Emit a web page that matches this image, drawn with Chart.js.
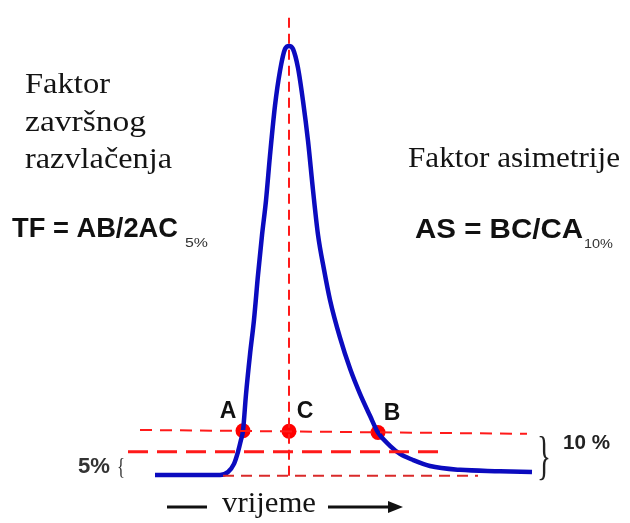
<!DOCTYPE html>
<html>
<head>
<meta charset="utf-8">
<script src="https://cdn.jsdelivr.net/npm/chart.js@4/dist/chart.umd.min.js"></script>
<style>
  html, body { margin: 0; padding: 0; background: #fff; }
  #wrap { width: 630px; height: 523px; position: relative; }
</style>
</head>
<body>
<div id="wrap"><canvas id="c"></canvas></div>
<script>
// peak (time in arbitrary units, signal in % of peak height)
const curveTime = [31, 44, 45.6, 46.8, 47.6, 48.2, 48.6, 49.2, 50, 50.8, 51.6, 52.4, 53.2, 54, 55, 56, 57, 57.8,
                   58.6, 59.6, 60.6, 61.6, 62.6, 63.6, 64.8, 66, 68, 70, 72, 74, 75.6, 78, 80, 82.6, 86, 92, 100, 106.4];
const curveSignal = [0, 0, 0.7, 2.6, 5.4, 8.2, 10.3, 18.8, 28.1, 36.2, 46.6, 55.9, 64, 74.5, 86.1, 94.2, 99.3, 100,
                     99.3, 94.9, 87.2, 77.9, 66.4, 56, 47.9, 40.8, 32, 24.8, 18.9, 13.8, 9.9, 6.8, 4.9, 3.5, 2.1, 1.2, 0.9, 0.7];

// reference lines
const peakTime = 57.8;
const peakLineSignal = [-0.2, 107.7];
const line10Time = [28, 105.4];
const line10Signal = [10.5, 9.6];
const line5Time = [25.6, 88.4];
const line5Signal = [5.4, 5.4];
const baseTime = [44.6, 95.6];
const baseSignal = [-0.2, -0.2];

// marked points A, C, B at 10 % height
const pointLabels = ['A', 'C', 'B'];
const pointTime = [48.6, 57.8, 75.6];
const pointSignal = [10.3, 10.2, 9.9];
const pointLabelShift = [-15, 16, 14];

const red = '#ff1a1a';
const blue = '#0b0bbf';

const xy = (xs, ys) => xs.map((x, i) => ({ x, y: ys[i] }));

// fit text to a width
function fitText(ctx, txt, x, y, w) {
    const m = ctx.measureText(txt).width;
    ctx.save();
    ctx.translate(x, y);
    ctx.scale(w / m, 1);
    ctx.fillText(txt, 0, 0);
    ctx.restore();
}

const notes = {
    id: 'notes',
    afterDatasetsDraw(chart) {
        const ctx = chart.ctx;
        const sx = chart.scales.x, sy = chart.scales.y;
        ctx.save();
        ctx.textBaseline = 'alphabetic';
        ctx.textAlign = 'left';

        // serif captions
        ctx.fillStyle = '#141414';
        ctx.font = '30px "Liberation Serif", serif';
        fitText(ctx, 'Faktor', 25, 93, 85);
        fitText(ctx, 'završnog', 25, 131, 121);
        fitText(ctx, 'razvlačenja', 25, 168, 147);
        fitText(ctx, 'Faktor asimetrije', 408, 167, 212);
        fitText(ctx, 'vrijeme', 222, 512, 94);

        // formulas
        ctx.fillStyle = '#111';
        ctx.font = 'bold 28px "Liberation Sans", Arial, sans-serif';
        fitText(ctx, 'TF = AB/2AC', 12, 237, 166);
        fitText(ctx, 'AS = BC/CA', 415, 238, 168);
        ctx.fillStyle = '#333';
        ctx.font = '12px "Liberation Sans", Arial, sans-serif';
        fitText(ctx, '5%', 185, 247, 23);
        fitText(ctx, '10%', 584, 248, 29);

        // point labels
        ctx.fillStyle = '#111';
        ctx.font = 'bold 23px "Liberation Sans", Arial, sans-serif';
        ctx.textAlign = 'center';
        pointLabels.forEach((lab, i) => {
            const px = sx.getPixelForValue(pointTime[i]);
            const py = sy.getPixelForValue(pointSignal[i]);
            ctx.fillText(lab, px + pointLabelShift[i], py - 13);
        });
        ctx.textAlign = 'left';

        // 5% / 10% brackets
        ctx.fillStyle = '#333';
        ctx.font = 'bold 22px "Liberation Sans", Arial, sans-serif';
        fitText(ctx, '5%', 78, 473, 32);
        ctx.font = '23px "Liberation Serif", serif';
        fitText(ctx, '{', 117, 474, 8);
        ctx.fillStyle = '#222';
        ctx.font = '52px "Liberation Serif", serif';
        fitText(ctx, '}', 537, 473, 14);
        ctx.font = 'bold 20px "Liberation Sans", Arial, sans-serif';
        fitText(ctx, '10 %', 563, 449, 47);

        // time arrow
        ctx.strokeStyle = '#111';
        ctx.lineWidth = 3;
        ctx.beginPath();
        ctx.moveTo(167, 507); ctx.lineTo(207, 507);
        ctx.moveTo(328, 507); ctx.lineTo(392, 507);
        ctx.stroke();
        ctx.fillStyle = '#111';
        ctx.beginPath();
        ctx.moveTo(403, 507); ctx.lineTo(388, 501); ctx.lineTo(388, 513);
        ctx.closePath();
        ctx.fill();
        ctx.restore();
    }
};

new Chart(document.getElementById('c'), {
    type: 'scatter',
    data: {
        datasets: [
            { data: xy(line10Time, line10Signal), showLine: true, borderColor: red, borderWidth: 2, borderDash: [12, 8], pointRadius: 0 },
            { data: xy(line5Time, line5Signal), showLine: true, borderColor: red, borderWidth: 3, borderDash: [20, 9], pointRadius: 0 },
            { data: xy(baseTime, baseSignal), showLine: true, borderColor: '#d92a2a', borderWidth: 2, borderDash: [11, 7], pointRadius: 0 },
            { data: xy([peakTime, peakTime], peakLineSignal), showLine: true, borderColor: red, borderWidth: 2, borderDash: [10, 6], pointRadius: 0 },
            { data: xy(curveTime, curveSignal), showLine: true, borderColor: blue, borderWidth: 4.5, cubicInterpolationMode: 'monotone', pointRadius: 0 },
            { data: xy(pointTime, pointSignal), showLine: false, pointRadius: 7.5, pointBackgroundColor: '#ff0000', pointBorderWidth: 0 },
        ],
    },
    options: {
        responsive: true,
        maintainAspectRatio: false,
        animation: false,
        layout: { padding: 0, autoPadding: false },
        plugins: { legend: { display: false }, tooltip: { enabled: false } },
        scales: {
            x: { type: 'linear', display: false, min: 0, max: 126 },
            y: { type: 'linear', display: false, min: -11.19, max: 110.72 },
        },
    },
    plugins: [notes],
});
</script>
</body>
</html>
